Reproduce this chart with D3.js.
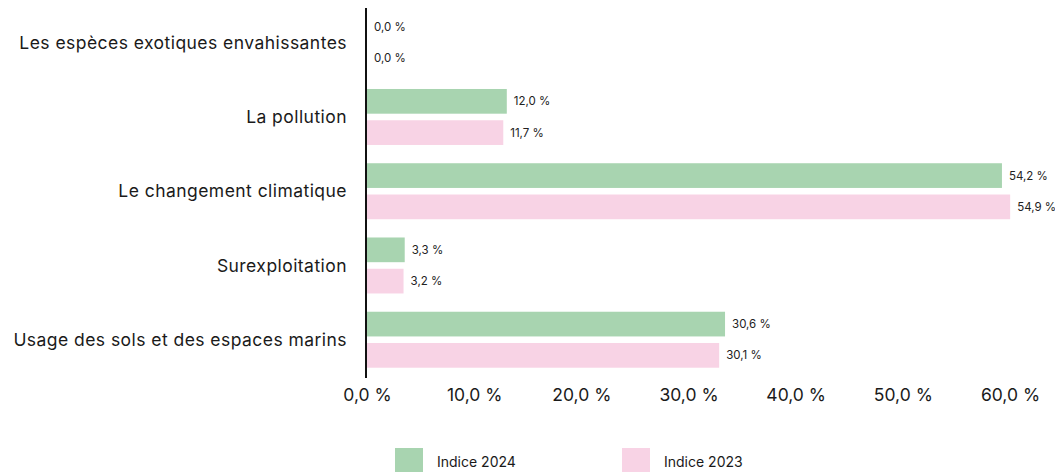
<!DOCTYPE html>
<html>
<head>
<meta charset="utf-8">
<script src="https://cdn.jsdelivr.net/npm/d3@7"></script>
<style>
  body { margin: 0; background: #fff; }
  svg { display: block; font-family: Inter, "Noto Sans", sans-serif; }
</style>
</head>
<body>
<div id="chart"></div>
<script>
// Data
const categories = [
  "Les espèces exotiques envahissantes",
  "La pollution",
  "Le changement climatique",
  "Surexploitation",
  "Usage des sols et des espaces marins"
];
const series = ["Indice 2024", "Indice 2023"];
const values2024 = [0.0, 12.0, 54.2, 3.3, 30.6];
const values2023 = [0.0, 11.7, 54.9, 3.2, 30.1];
const tickValues = [0, 10, 20, 30, 40, 50, 60];
const colors = ["#a8d4b0", "#f8d3e5"];

const width = 1055, height = 472;
const fmt = v => v.toFixed(1).replace(".", ",") + " %";

const svg = d3.select("#chart").append("svg")
  .attr("width", width)
  .attr("height", height);

// bars and axis labels don't share exactly the same scale in the original
const xBar = d3.scaleLinear().domain([0, 60]).range([366, 1070]);
const xAxis = d3.scaleLinear().domain([0, 60]).range([367, 1010]);

const y0 = d3.scaleBand().domain(categories)
  .range([5.6, 376.85]).paddingInner(0.246).paddingOuter(0.123);
const y1 = d3.scaleBand().domain(series)
  .range([0, y0.bandwidth()]).paddingInner(0.21);

const rows = categories.map((c, i) => ({
  cat: c,
  vals: [
    { s: series[0], v: values2024[i] },
    { s: series[1], v: values2023[i] }
  ]
}));

const color = d3.scaleOrdinal().domain(series).range(colors);

const groups = svg.append("g").selectAll("g")
  .data(rows).join("g")
  .attr("transform", d => `translate(0,${y0(d.cat)})`);

groups.selectAll("rect")
  .data(d => d.vals).join("rect")
  .attr("x", xBar(0))
  .attr("y", d => y1(d.s))
  .attr("width", d => xBar(d.v) - xBar(0))
  .attr("height", y1.bandwidth())
  .attr("fill", d => color(d.s));

groups.selectAll("text.val")
  .data(d => d.vals).join("text")
  .attr("class", "val")
  .attr("x", d => xBar(d.v) + (d.v === 0 ? 8 : 7))
  .attr("y", d => y1(d.s) + y1.bandwidth() / 2)
  .attr("dy", "0.35em")
  .attr("font-size", 11.5)
  .attr("fill", "#222")
  .text(d => fmt(d.v));

// category labels
svg.append("g").selectAll("text")
  .data(categories).join("text")
  .attr("x", 347)
  .attr("y", d => y0(d) + y0.bandwidth() / 2)
  .attr("dy", "0.35em")
  .attr("text-anchor", "end")
  .attr("font-size", 17.5)
  .attr("letter-spacing", 0.45)
  .attr("fill", "#1a1a1a")
  .text(d => d);

// vertical baseline
svg.append("line")
  .attr("x1", xBar(0)).attr("x2", xBar(0))
  .attr("y1", 8).attr("y2", 378)
  .attr("stroke", "#111").attr("stroke-width", 2);

// x axis tick labels
const ax = svg.append("g")
  .attr("transform", "translate(0,378)")
  .call(d3.axisBottom(xAxis).tickValues(tickValues).tickFormat(fmt).tickSize(0).tickPadding(11));
ax.select(".domain").remove();
ax.selectAll("text")
  .attr("font-size", 17.5)
  .attr("font-family", "Inter, 'Noto Sans', sans-serif")
  .attr("fill", "#1a1a1a");

// legend
const legendX = [395, 622];
const legend = svg.append("g").selectAll("g")
  .data(series).join("g")
  .attr("transform", (d, i) => `translate(${legendX[i]},448)`);
legend.append("rect")
  .attr("width", 28).attr("height", 26)
  .attr("fill", d => color(d));
legend.append("text")
  .attr("x", 42).attr("y", 19)
  .attr("font-size", 14)
  .attr("fill", "#1a1a1a")
  .text(d => d);
</script>
</body>
</html>
